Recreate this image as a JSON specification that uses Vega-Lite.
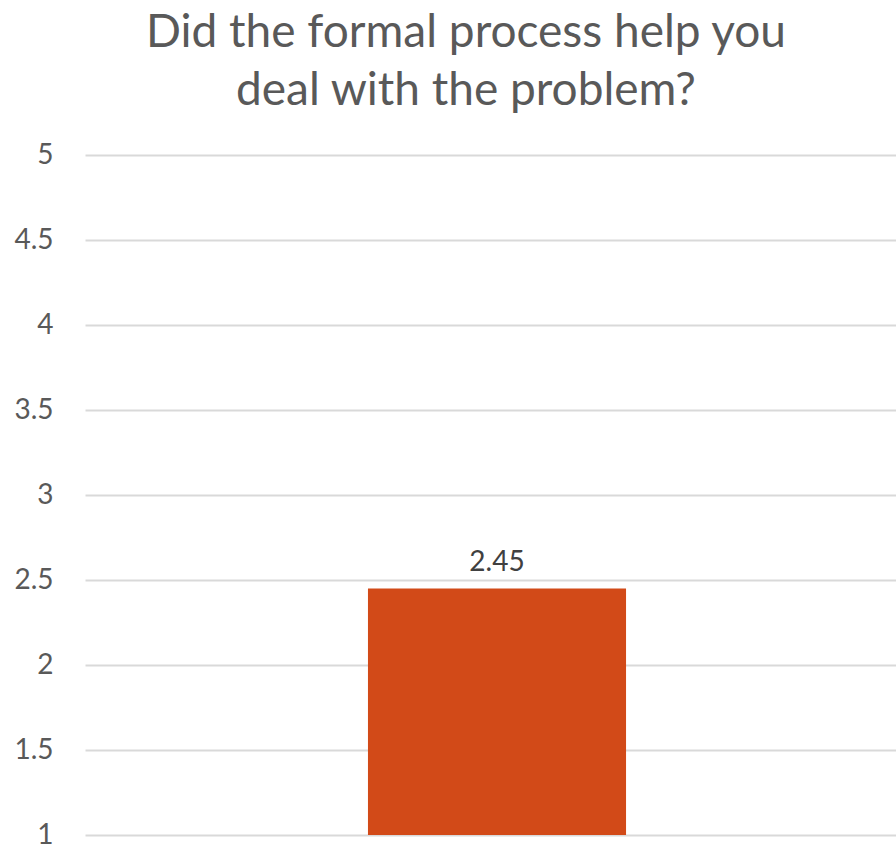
{
  "$schema": "https://vega.github.io/schema/vega-lite/v6.json",
  "autosize": "none",
  "width": 824,
  "height": 680,
  "padding": {"left": 85, "top": 155, "right": 0, "bottom": 16},
  "background": "white",
  "title": {
    "text": ["Did the formal process help you", "deal with the problem?"],
    "anchor": "middle",
    "frame": "group",
    "dx": -31,
    "offset": 26,
    "font": "Lato",
    "fontSize": 46,
    "fontWeight": "normal",
    "color": "#595959",
    "lineHeight": 58
  },
  "data": {"values": [{"category": "Formal process", "score": 2.45}]},
  "encoding": {
    "x": {
      "field": "category",
      "type": "nominal",
      "scale": {"paddingInner": 0.523, "paddingOuter": 0.523},
      "axis": null
    },
    "y": {
      "field": "score",
      "type": "quantitative",
      "scale": {"domain": [1, 5], "nice": false, "zero": false},
      "axis": {
        "values": [1, 1.5, 2, 2.5, 3, 3.5, 4, 4.5, 5],
        "format": "~g",
        "title": null,
        "ticks": false,
        "domain": false,
        "labelPadding": 32,
        "labelFont": "Lato",
        "labelFontSize": 28,
        "labelColor": "#595959",
        "gridColor": "#D9D9D9",
        "gridWidth": 2,
        "labelBaseline": "middle"
      }
    }
  },
  "layer": [
    {"mark": {"type": "bar", "color": "#D24A18"}, "encoding": {"y2": {"datum": 1}}},
    {
      "mark": {"type": "text", "dy": -26, "font": "Lato", "fontSize": 28, "color": "#404040"},
      "encoding": {"text": {"field": "score", "type": "quantitative", "format": ".2f"}}
    }
  ],
  "config": {"view": {"stroke": null}}
}
